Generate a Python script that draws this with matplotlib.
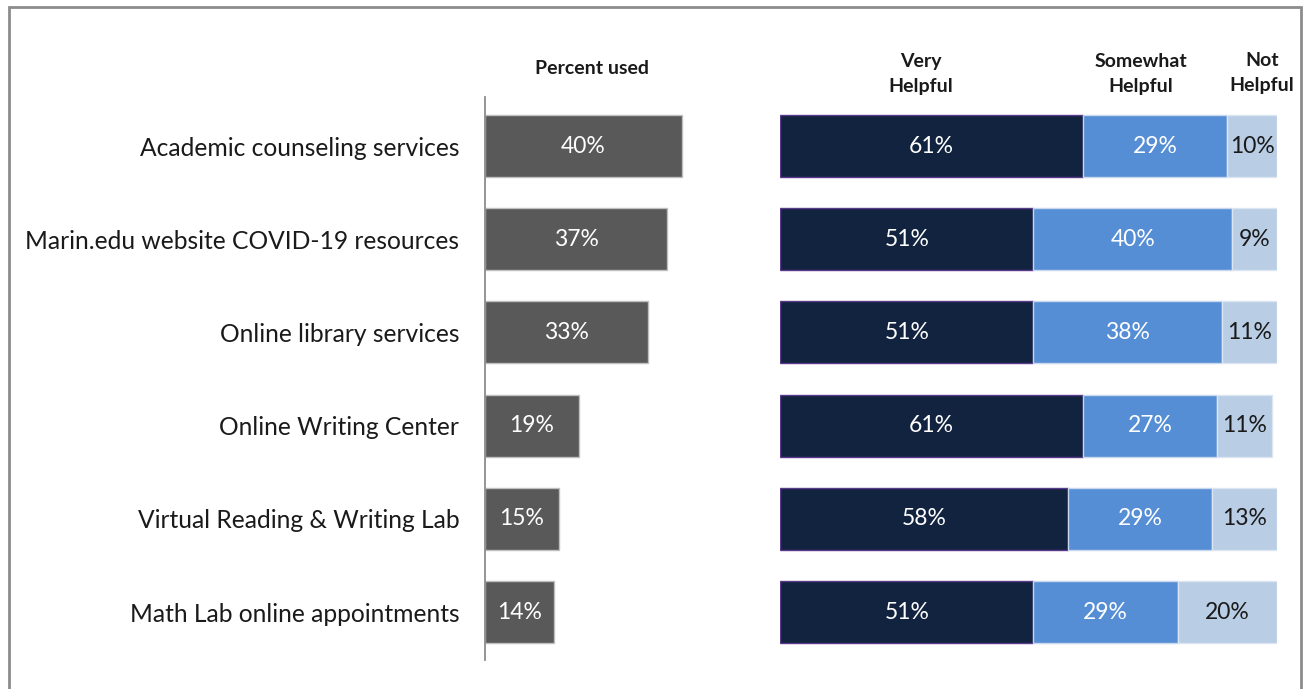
import matplotlib
matplotlib.use("Agg")
import matplotlib.pyplot as plt
from matplotlib.patches import Rectangle

plt.rcParams['font.family'] = ['Lato', 'DejaVu Sans']

categories = [
    "Academic counseling services",
    "Marin.edu website COVID-19 resources",
    "Online library services",
    "Online Writing Center",
    "Virtual Reading & Writing Lab",
    "Math Lab online appointments",
]
percent_used = [40, 37, 33, 19, 15, 14]
very_helpful = [61, 51, 51, 61, 58, 51]
somewhat_helpful = [29, 40, 38, 27, 29, 29]
not_helpful = [10, 9, 11, 11, 13, 20]

W, H = 1304, 689
fig = plt.figure(figsize=(W / 100, H / 100), dpi=100)
fig.patch.set_facecolor("white")

# outer frame
fig.patches.append(Rectangle((8.5 / W, -0.01), (1301 - 8.5) / W, (H - 7) / H + 0.01,
                             transform=fig.transFigure, fill=False,
                             edgecolor="#8c8c8c", linewidth=2))

def px_axes(x0, x1, y0, y1):
    return fig.add_axes([x0 / W, 1 - y1 / H, (x1 - x0) / W, (y1 - y0) / H])

n = len(categories)
ypos = list(range(n))
bar_h = 0.665
ylim = (5.514, -0.526)
val_fs = 16.5

# left panel: percent used
ax1 = px_axes(485, 485 + 4.925 * 50, 97, 660)
ax1.barh(ypos, percent_used, height=bar_h, color="#595959",
         edgecolor="#bfbfbf", linewidth=1)
ax1.set_xlim(0, 50)
ax1.set_ylim(*ylim)
for s in ["top", "right", "bottom"]:
    ax1.spines[s].set_visible(False)
ax1.spines["left"].set_color("#8c8c8c")
ax1.spines["left"].set_linewidth(1.3)
ax1.set_xticks([])
ax1.set_yticks(ypos)
ax1.set_yticklabels(categories, fontsize=17.7, color="#1a1a1a")
ax1.tick_params(axis="y", length=0, pad=18.5)
for y, v in zip(ypos, percent_used):
    ax1.text(v / 2, y, f"{v}%", ha="center", va="center",
             color="white", fontsize=val_fs)

# right panel: helpfulness
ax2 = px_axes(780, 1277, 97, 660)
ax2.barh(ypos, very_helpful, height=bar_h, color="#12233f",
         edgecolor="#5b3a8c", linewidth=1)
ax2.barh(ypos, somewhat_helpful, left=very_helpful, height=bar_h,
         color="#558ed5", edgecolor="#c6d7ee", linewidth=1)
left3 = [a + b for a, b in zip(very_helpful, somewhat_helpful)]
ax2.barh(ypos, not_helpful, left=left3, height=bar_h,
         color="#b9cde5", edgecolor="#dce6f2", linewidth=1)
ax2.set_xlim(0, 100)
ax2.set_ylim(*ylim)
ax2.axis("off")
for y, a, b, c in zip(ypos, very_helpful, somewhat_helpful, not_helpful):
    ax2.text(a / 2, y, f"{a}%", ha="center", va="center", color="white", fontsize=val_fs)
    ax2.text(a + b / 2, y, f"{b}%", ha="center", va="center", color="white", fontsize=val_fs)
    ax2.text(a + b + c / 2, y, f"{c}%", ha="center", va="center", color="#1a1a1a", fontsize=val_fs)

hdr = dict(ha="center", va="center", fontsize=14, fontweight="bold",
           color="#1a1a1a", linespacing=1.6, transform=fig.transFigure)
fig.text(592 / W, 1 - 69 / H, "Percent used", **hdr)
fig.text(921 / W, 1 - 74 / H, "Very\nHelpful", **hdr)
fig.text(1141 / W, 1 - 74 / H, "Somewhat\nHelpful", **hdr)
fig.text(1262 / W, 1 - 73 / H, "Not\nHelpful", **hdr)

fig.savefig("out.png", dpi=100, facecolor="white")
